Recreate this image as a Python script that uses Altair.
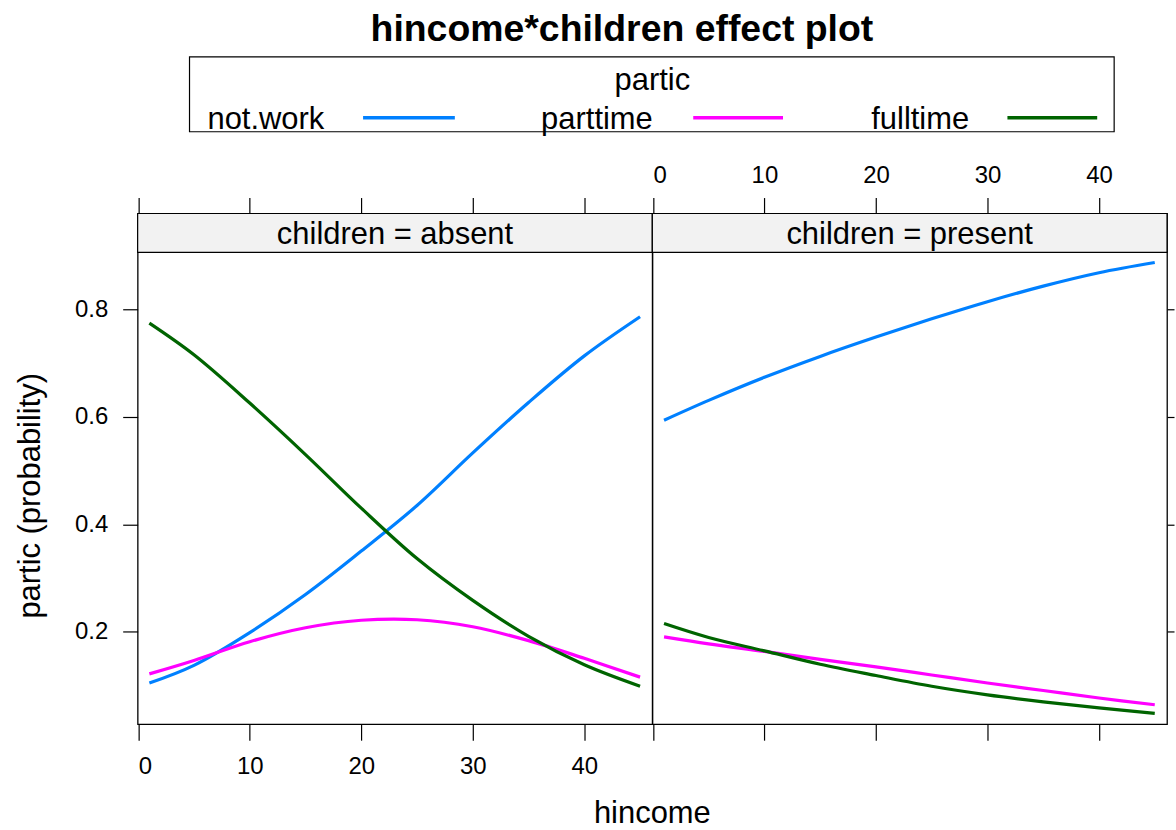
import altair as alt
import pandas as pd

# Household income (thousands) at which the fitted probabilities are shown
HINCOME = [1, 5, 10, 15, 20, 25, 30, 35, 40, 45]

LEVELS = ["not.work", "parttime", "fulltime"]
COLORS = ["#0080ff", "#ff00ff", "#006400"]

# Fitted probabilities, children = absent
ABSENT_NOT_WORK = [0.104, 0.137, 0.198, 0.269, 0.350, 0.435, 0.533, 0.627, 0.714, 0.787]
ABSENT_PARTTIME = [0.121, 0.146, 0.181, 0.207, 0.221, 0.222, 0.209, 0.183, 0.150, 0.115]
ABSENT_FULLTIME = [0.775, 0.716, 0.626, 0.530, 0.430, 0.336, 0.258, 0.191, 0.138, 0.098]

# Fitted probabilities, children = present
PRESENT_NOT_WORK = [0.594, 0.631, 0.674, 0.713, 0.749, 0.783, 0.815, 0.844, 0.869, 0.888]
PRESENT_PARTTIME = [0.190, 0.177, 0.163, 0.148, 0.134, 0.119, 0.104, 0.090, 0.076, 0.0635]
PRESENT_FULLTIME = [0.215, 0.189, 0.164, 0.139, 0.118, 0.098, 0.082, 0.069, 0.0576, 0.0475]

X_TICKS = [0, 10, 20, 30, 40]
Y_TICKS = [0.2, 0.4, 0.6, 0.8]
X_DOMAIN = [-0.05, 46.1]
Y_DOMAIN = [0.0272, 0.9794]   # upper part of the range holds the strip

PANELS = ["absent", "present"]
SERIES = {
    "absent": [ABSENT_NOT_WORK, ABSENT_PARTTIME, ABSENT_FULLTIME],
    "present": [PRESENT_NOT_WORK, PRESENT_PARTTIME, PRESENT_FULLTIME],
}

FONT = "Liberation Sans"
W, H = 516, 512          # size of one panel (strip included)
STRIP_H = 39
BASE_FS = 31
TICK_FS = 24

rows = []
for cond in PANELS:
    for lvl, vals in zip(LEVELS, SERIES[cond]):
        for h, p in zip(HINCOME, vals):
            rows.append({"children": cond, "partic": lvl, "hincome": h, "prob": p})
df = pd.DataFrame(rows)

xs = alt.Scale(domain=X_DOMAIN, nice=False, zero=False)
ys = alt.Scale(domain=Y_DOMAIN, nice=False, zero=False)
col = alt.Color("partic:N", scale=alt.Scale(domain=LEVELS, range=COLORS), legend=None)

axis_common = dict(domain=False, grid=False, ticks=True, tickColor="black",
                   tickWidth=1.2, labelFont=FONT, labelFontSize=TICK_FS,
                   labelColor="black", title=None)


def panel(cond, first):
    data = df[df["children"] == cond]
    base = alt.Chart(data)

    # invisible carrier of the bottom and left/right axes
    axes_bl = base.mark_line(opacity=0).encode(
        x=alt.X("hincome:Q", scale=xs,
                axis=alt.Axis(orient="bottom", values=X_TICKS, labels=first,
                              tickSize=16, labelPadding=14, **axis_common)),
        y=alt.Y("prob:Q", scale=ys,
                axis=alt.Axis(orient="left" if first else "right",
                              values=Y_TICKS, labels=first, format=".1f",
                              tickSize=15 if first else 7,
                              labelPadding=15, **axis_common)),
        detail="partic:N",
    )
    # top axis (ticks above the strip)
    axes_top = base.mark_line(opacity=0).encode(
        x=alt.X("hincome:Q", scale=xs,
                axis=alt.Axis(orient="top", values=X_TICKS, labels=not first,
                              tickSize=16, labelPadding=10, **axis_common)),
        y=alt.Y("prob:Q", scale=ys, axis=None),
        detail="partic:N",
    )
    lines = []
    for lvl in LEVELS:
        lines.append(
            base.transform_filter(alt.datum.partic == lvl)
            .mark_line(strokeWidth=3.2, interpolate="catmull-rom")
            .encode(x=alt.X("hincome:Q", scale=xs, axis=None),
                    y=alt.Y("prob:Q", scale=ys, axis=None),
                    color=col)
        )
    strip_df = pd.DataFrame({"s": [f"children = {cond}"]})
    strip_bg = alt.Chart(strip_df).mark_rect(fill="#f2f2f2", stroke="black",
                                             strokeWidth=1.2).encode(
        x=alt.value(0), x2=alt.value(W), y=alt.value(0), y2=alt.value(STRIP_H))
    strip_txt = alt.Chart(strip_df).mark_text(font=FONT, fontSize=BASE_FS, color="black",
                                              baseline="alphabetic", align="center").encode(
        x=alt.value(W / 2), y=alt.value(31), text="s:N")
    parts = [axes_bl, axes_top, strip_bg, strip_txt] + lines

    if first:
        # canvas frame, titles and key
        frame = alt.Chart(strip_df).mark_rect(opacity=0).encode(
            x=alt.value(-137), x2=alt.value(1039), y=alt.value(-212), y2=alt.value(618))
        main_title = alt.Chart(pd.DataFrame({"t": ["hincome*children effect plot"]})).mark_text(
            font=FONT, fontSize=37.5, fontWeight="bold", color="black",
            align="center", baseline="alphabetic").encode(
            x=alt.value(485.5), y=alt.value(-173), text="t:N")
        x_title = alt.Chart(pd.DataFrame({"t": ["hincome"]})).mark_text(
            font=FONT, fontSize=BASE_FS, color="black", align="center",
            baseline="bottom").encode(x=alt.value(W), y=alt.value(618), text="t:N")
        y_title = alt.Chart(pd.DataFrame({"t": ["partic (probability)"]})).mark_text(
            font=FONT, fontSize=BASE_FS, color="black", align="center",
            baseline="alphabetic", angle=270).encode(
            x=alt.value(-98), y=alt.value(283), text="t:N")
        key_box = alt.Chart(strip_df).mark_rect(fill="white", stroke="black",
                                                strokeWidth=1.2).encode(
            x=alt.value(52), x2=alt.value(979), y=alt.value(-157), y2=alt.value(-82))
        key_title = alt.Chart(pd.DataFrame({"t": ["partic"]})).mark_text(
            font=FONT, fontSize=BASE_FS, color="black", align="center",
            baseline="alphabetic").encode(x=alt.value(516), y=alt.value(-124), text="t:N")
        key_df = pd.DataFrame({
            "partic": LEVELS,
            "tx": [70, 404.5, 735.5],
            "lx1": [226, 557, 872],
            "lx2": [318, 647, 962],
        })
        key_text = alt.Chart(key_df).mark_text(
            font=FONT, fontSize=BASE_FS, color="black", align="left",
            baseline="alphabetic").encode(
            x=alt.X("tx:Q", scale=None), y=alt.value(-85), text="partic:N")
        key_lines = alt.Chart(key_df).mark_rule(strokeWidth=3.5).encode(
            x=alt.X("lx1:Q", scale=None), x2="lx2:Q", y=alt.value(-96), color=col)
        parts = [frame, key_box, key_title, key_text, key_lines,
                 main_title, x_title, y_title] + parts

    return alt.layer(*parts).properties(width=W, height=H).resolve_axis(
        x="independent", y="independent")


chart = alt.hconcat(panel("absent", True), panel("present", False),
                    spacing=0, bounds="flush").properties(
    padding=0, background="white"
).configure_view(stroke="black", strokeWidth=1.3)

chart.save("out.html", embed_options={"renderer": "svg", "actions": False})
